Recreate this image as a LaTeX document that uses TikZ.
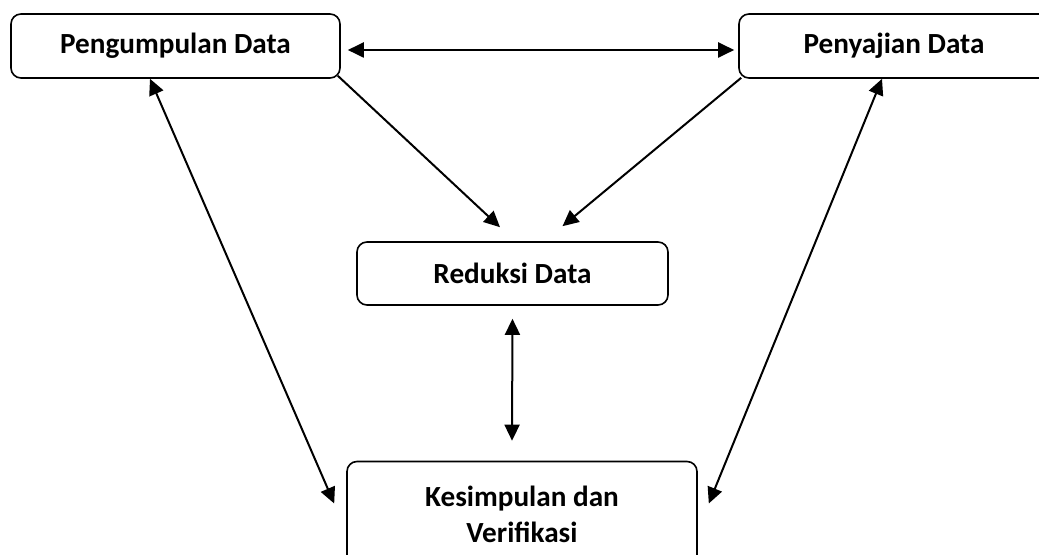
\documentclass[tikz,border=0pt]{standalone}
\usepackage{fontspec}
\setmainfont{Carlito}
\usepackage{tikz}
\usetikzlibrary{arrows.meta}
\tikzset{
  stage/.style={draw, rectangle, rounded corners=5pt, align=center,
                line width=0.8pt, inner sep=0pt,
                font=\fontsize{14.6}{18}\selectfont\bfseries},
  one/.style={line width=1pt, -{Triangle[length=8pt, width=7.5pt]}},
  both/.style={line width=1pt, {Triangle[length=8pt, width=7.5pt]}-{Triangle[length=8pt, width=7.5pt]}},
}

\begin{document}
\begin{tikzpicture}[x=0.5pt, y=-0.5pt]
  \useasboundingbox (0,0) rectangle (1039,555);
  \node[stage, minimum width=164.5pt, minimum height=32pt] (PD) at (175.5,46)  {Pengumpulan Data};
  \node[stage, minimum width=155pt,   minimum height=32pt] (PJ) at (894,46)    {Penyajian Data};
  \node[stage, minimum width=155.5pt, minimum height=31.5pt] (RD) at (512.5,273.5) {Reduksi Data};
  \node[stage, minimum width=175pt,   minimum height=53pt] (KV) at (522,514.5) {Kesimpulan dan\\ Verifikasi};
  \draw[both] ([xshift=3.5pt,yshift=-2pt]PD.east) -- ([xshift=-2pt,yshift=-2pt]PJ.west);
  \draw[one]  ([xshift=-1.5pt,yshift=1.5pt]PD.south east) -- ([xshift=-6.25pt,yshift=7pt]RD.north);
  \draw[one]  ([xshift=1.5pt,yshift=0.5pt]PJ.south west) -- ([xshift=25pt,yshift=7.5pt]RD.north);
  \draw[both] ([yshift=-6.5pt]RD.south) -- ([xshift=-5pt,yshift=10pt]KV.north);
  \draw[both] ([xshift=-12.75pt]PD.south) -- ([xshift=-6pt,yshift=5.5pt]KV.west);
  \draw[both] ([xshift=-6pt]PJ.south) -- ([xshift=5.5pt,yshift=5.5pt]KV.east);
\end{tikzpicture}
\end{document}
